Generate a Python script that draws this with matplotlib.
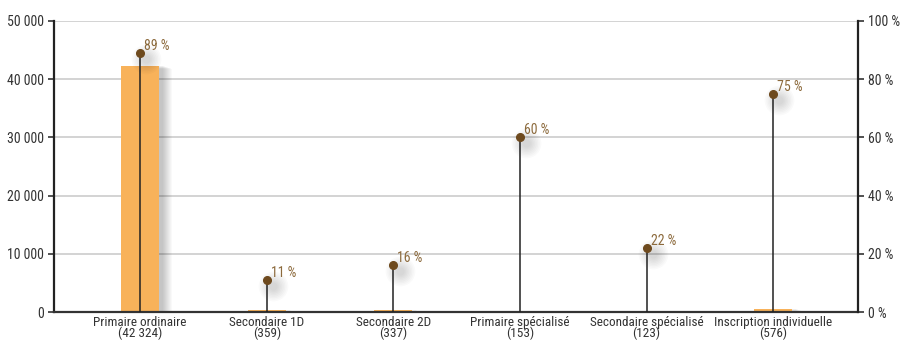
import matplotlib
matplotlib.use("Agg")
import matplotlib.pyplot as plt

categories = ["Primaire ordinaire", "Secondaire 1D", "Secondaire 2D",
              "Primaire spécialisé", "Secondaire spécialisé", "Inscription individuelle"]
counts = [42324, 359, 337, 153, 123, 576]
count_labels = ["42 324", "359", "337", "153", "123", "576"]
shares = [89, 11, 16, 60, 22, 75]

plt.rcParams['font.family'] = ['Roboto Condensed', 'DejaVu Sans']
plt.rcParams['font.weight'] = 'normal'
FS = 10

fig = plt.figure(figsize=(9.01, 3.43), dpi=100)
ax = fig.add_axes([54/901, 1 - 312/343, (858-54)/901, (312-21)/343])
ax2 = ax.twinx()

x = list(range(len(categories)))
bar_color = "#F8B25A"

# soft shadow behind bars
for k in range(10):
    ax.bar([xi + 0.03 + 0.008*k for xi in x], counts, width=0.3,
           bottom=[-60*k]*len(x), color="black", alpha=0.022, zorder=1, linewidth=0)
ax.bar(x, counts, width=0.3, color=bar_color, zorder=2, linewidth=0)

ax.set_xlim(-0.68, 5.67)
ax.set_ylim(0, 50000)
ax.set_yticks(range(0, 50001, 10000))
ax.set_yticklabels(["0", "10 000", "20 000", "30 000", "40 000", "50 000"])
ax.yaxis.grid(True, color="#CCCCCC", linewidth=1.2, zorder=0)
ax.set_axisbelow(True)
ax.set_xticks(x)
ax.set_xticklabels([f"{c}\n({n})" for c, n in zip(categories, count_labels)],
                   linespacing=0.72)
ax.tick_params(axis="x", length=0, pad=3, labelsize=9.5, colors="#333333")
ax.tick_params(axis="y", length=4, width=1.2, labelsize=FS, colors="#333333", pad=3)

ax.spines["top"].set_visible(False)
ax2.spines["top"].set_visible(False)
ax.spines["right"].set_visible(False)
ax2.spines["left"].set_visible(False)
ax2.spines["bottom"].set_visible(False)
ax.spines["left"].set_linewidth(1.6)
ax.spines["left"].set_color("#222222")
ax2.spines["right"].set_linewidth(1.6)
ax2.spines["right"].set_color("#222222")
ax.spines["bottom"].set_linewidth(1.6)
ax.spines["bottom"].set_color("#333333")
ax.spines["bottom"].set_zorder(5)

ax2.set_ylim(0, 100)
ax2.set_yticks(range(0, 101, 20))
ax2.set_yticklabels([f"{v} %" for v in range(0, 101, 20)])
ax2.tick_params(axis="y", length=4, width=1.2, labelsize=FS, colors="#333333", pad=3)

# lollipops for the shares
marker_color = "#6E4A1E"
for xi, s in zip(x, shares):
    ax2.vlines(xi, 0, s, color="#222222", linewidth=1.1, zorder=3)
    for k in range(8):
        ax2.plot([xi + 0.05], [s - 2.0], "o", color="black",
                 alpha=0.018, markersize=6 + 2.2*k, markeredgewidth=0, zorder=2)
    ax2.plot([xi], [s], "o", color=marker_color, markersize=5.5, zorder=4)
    ax2.annotate(f"{s} %", (xi, s), xytext=(3, 0), textcoords="offset points",
                 color="#8C6A3C", fontsize=FS, ha="left", va="bottom", zorder=5)

fig.savefig("out.png", dpi=100)
